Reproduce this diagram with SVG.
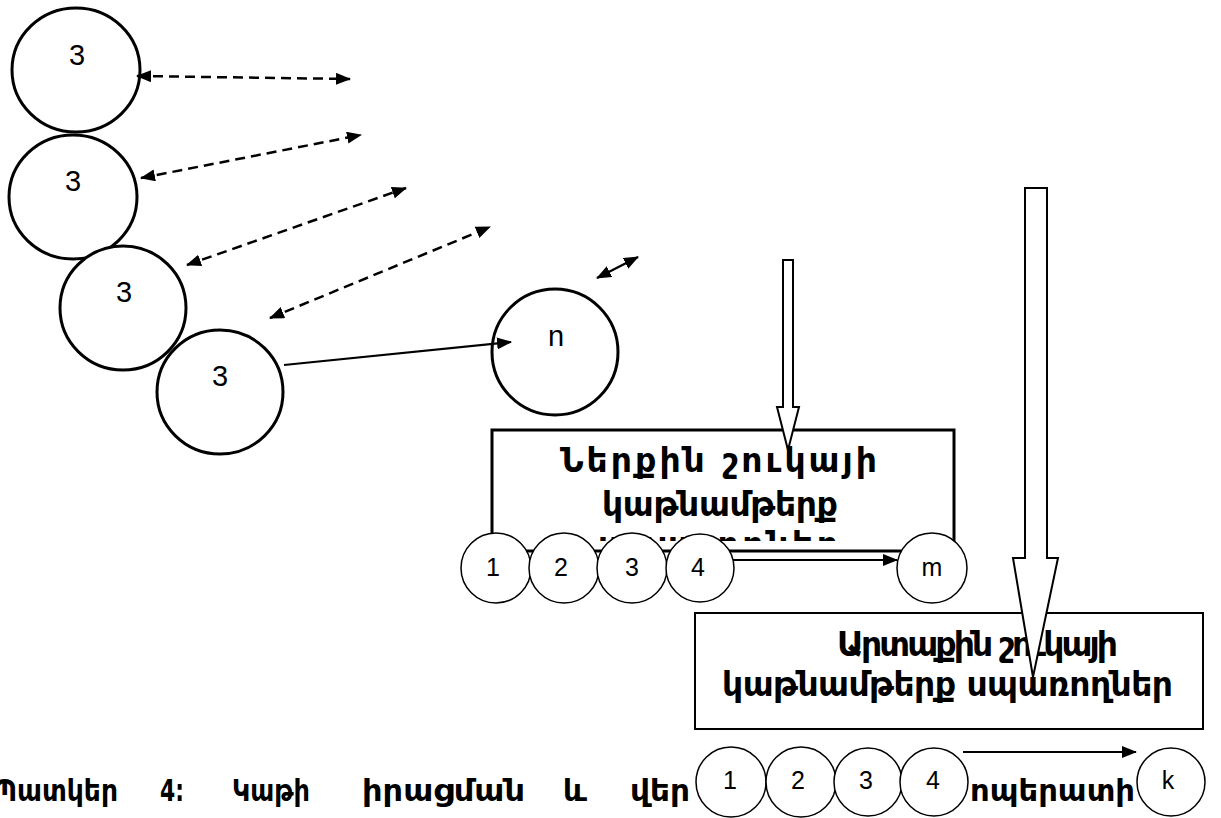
<svg xmlns="http://www.w3.org/2000/svg" width="1221" height="818" viewBox="0 0 1221 818">
<style>
.big{fill:#fff;stroke:#000;stroke-width:3}
.sm{fill:#fff;stroke:#000;stroke-width:1.5}
.lbl{font-family:"Liberation Sans",Arial,sans-serif;font-size:29px;text-anchor:middle;dominant-baseline:central;fill:#000}
.slbl{font-family:"Liberation Sans",Arial,sans-serif;font-size:25px;text-anchor:middle;dominant-baseline:central;fill:#000}
.hy{font-family:"DejaVu Sans","Noto Sans",sans-serif;font-weight:bold;font-size:33px;fill:#000}
.cap{font-family:"DejaVu Sans","Noto Sans",sans-serif;font-weight:bold;font-size:31px;fill:#000}
.dash{stroke:#000;stroke-width:2.5;stroke-dasharray:10,6;fill:none}
.solid{stroke:#000;stroke-width:2.2;fill:none}
.hollow{fill:#fff;stroke:#000;stroke-width:2;stroke-linejoin:miter}
</style>
<defs>
<marker id="ah" viewBox="0 0 15 12" refX="14" refY="6" markerWidth="15" markerHeight="12" markerUnits="userSpaceOnUse" orient="auto-start-reverse">
<path d="M0,0 L15,6 L0,12 z" fill="#000"/>
</marker>
<clipPath id="clip1"><rect x="494" y="432" width="458" height="109"/></clipPath>
</defs>
<rect width="1221" height="818" fill="#fff"/>

<g id="caption" class="cap">
<text x="-6" y="801" textLength="124" lengthAdjust="spacingAndGlyphs">Պատկեր</text>
<text x="160" y="801" textLength="24" lengthAdjust="spacingAndGlyphs">4:</text>
<text x="232" y="801" textLength="78" lengthAdjust="spacingAndGlyphs">Կաթի</text>
<text x="362" y="801" textLength="163" lengthAdjust="spacingAndGlyphs">իրացման</text>
<text x="563" y="801" textLength="24" lengthAdjust="spacingAndGlyphs">և</text>
<text x="630" y="801" textLength="60" lengthAdjust="spacingAndGlyphs">վեր</text>
<text x="970" y="801" textLength="165" lengthAdjust="spacingAndGlyphs">ոպերատի</text>
</g>

<g id="box1">
<rect x="492" y="430" width="462" height="121" fill="#fff" stroke="#000" stroke-width="3"/>
<g clip-path="url(#clip1)" class="hy">
<text x="560" y="472" textLength="317" lengthAdjust="spacing">Ներքին շուկայի</text>
<text x="602" y="516" textLength="236" lengthAdjust="spacing">կաթնամթերք</text>
<text x="598" y="556" textLength="240" lengthAdjust="spacing">սպառողներ</text>
</g>
</g>

<g id="box2">
<rect x="695" y="613" width="508" height="116" fill="#fff" stroke="#000" stroke-width="2"/>
<text class="hy" x="837" y="656" textLength="281" lengthAdjust="spacing">Արտաքին շուկայի</text>
<text class="hy" x="722" y="696" textLength="451" lengthAdjust="spacing">կաթնամթերք սպառողներ</text>
</g>

<g id="c1"><ellipse class="big" cx="76" cy="70" rx="64" ry="62"/><text class="lbl" x="77" y="55">3</text></g>
<g id="c2"><ellipse class="big" cx="73" cy="197" rx="64" ry="62"/><text class="lbl" x="73" y="181">3</text></g>
<g id="c3"><ellipse class="big" cx="123" cy="308" rx="63" ry="62"/><text class="lbl" x="124" y="292">3</text></g>
<g id="c4"><ellipse class="big" cx="220" cy="392" rx="63" ry="62"/><text class="lbl" x="220" y="376">3</text></g>
<g id="cn"><ellipse class="big" cx="555" cy="352" rx="63" ry="63"/><text class="lbl" x="556" y="336">n</text></g>

<g id="r1c1"><circle class="sm" cx="496" cy="568" r="35"/><text class="slbl" x="493" y="567">1</text></g>
<g id="r1c2"><circle class="sm" cx="564" cy="568" r="35"/><text class="slbl" x="561" y="567">2</text></g>
<g id="r1c3"><circle class="sm" cx="632" cy="568" r="35"/><text class="slbl" x="632" y="567">3</text></g>
<g id="r1c4"><circle class="sm" cx="700" cy="568" r="34"/><text class="slbl" x="698" y="567">4</text></g>
<g id="r1cm"><circle class="sm" cx="932" cy="568" r="35"/><text class="slbl" x="932" y="567">m</text></g>

<g id="r2c1"><circle class="sm" cx="731" cy="782" r="35"/><text class="slbl" x="730" y="780">1</text></g>
<g id="r2c2"><circle class="sm" cx="801" cy="782" r="35"/><text class="slbl" x="798" y="780">2</text></g>
<g id="r2c3"><circle class="sm" cx="868" cy="782" r="34"/><text class="slbl" x="866" y="780">3</text></g>
<g id="r2c4"><circle class="sm" cx="934" cy="782" r="34"/><text class="slbl" x="933" y="780">4</text></g>
<g id="r2ck"><circle class="sm" cx="1171" cy="782" r="34"/><text class="slbl" x="1168" y="780">k</text></g>

<g id="connectors">
<line class="dash" x1="137" y1="76" x2="350" y2="79" marker-start="url(#ah)" marker-end="url(#ah)"/>
<line class="dash" x1="141" y1="178" x2="361" y2="135" marker-start="url(#ah)" marker-end="url(#ah)"/>
<line class="dash" x1="187" y1="265" x2="406" y2="188" marker-start="url(#ah)" marker-end="url(#ah)"/>
<line class="dash" x1="270" y1="318" x2="490" y2="227" marker-start="url(#ah)" marker-end="url(#ah)"/>
<line class="solid" x1="597" y1="278" x2="638" y2="257" marker-start="url(#ah)" marker-end="url(#ah)"/>
<line class="solid" x1="284" y1="365" x2="511" y2="342" marker-end="url(#ah)"/>
<line class="solid" x1="733" y1="560" x2="897" y2="560" marker-end="url(#ah)"/>
<line class="solid" x1="963" y1="752" x2="1136" y2="752" marker-end="url(#ah)"/>
<polygon class="hollow" points="783,260 793,260 793,407 799,407 788,450 777,407 783,407"/>
<polygon class="hollow" points="1025,188 1047,188 1047,558 1058,558 1033,677 1013,558 1025,558"/>
</g>
</svg>
